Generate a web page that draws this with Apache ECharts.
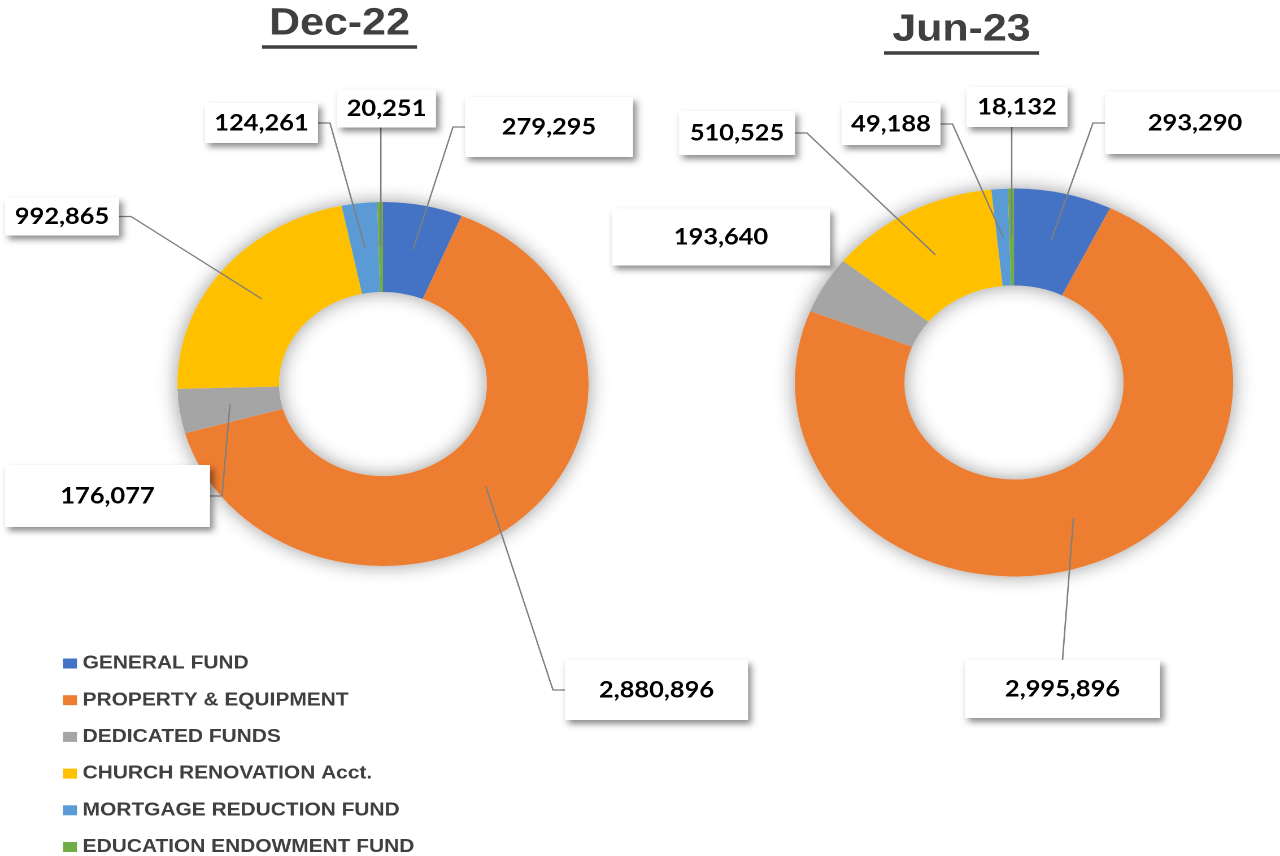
<!DOCTYPE html>
<html>
<head>
<meta charset="utf-8">
<script src="https://cdn.jsdelivr.net/npm/echarts@6/dist/echarts.min.js"></script>
<style>
html, body { margin: 0; padding: 0; background: #fff; overflow: hidden; }
#wrap { width: 1280px; height: 856px; overflow: hidden; }
#chart { width: 1133px; height: 856px; transform-origin: 0 0; }
</style>
</head>
<body>
<div id="wrap"><div id="chart"></div></div>
<script>
// ---------- data ----------
const categories = ['GENERAL FUND', 'PROPERTY & EQUIPMENT', 'DEDICATED FUNDS', 'CHURCH RENOVATION Acct.', 'MORTGAGE REDUCTION FUND', 'EDUCATION ENDOWMENT FUND'];
const periods = ['Dec-22', 'Jun-23'];
const dec22Values = [279295, 2880896, 176077, 992865, 124261, 20251];
const jun23Values = [293290, 2995896, 193640, 510525, 49188, 18132];
const seriesValues = [dec22Values, jun23Values];

// ---------- styles / layout ----------
const colors = ['#4472C4', '#ED7D31', '#A5A5A5', '#FFC000', '#5B9BD5', '#70AD47'];
const W = 1133;
const S = 1280 / W;                 // horizontal stretch of the original picture
const X = v => v / S;               // screen x -> chart x
document.getElementById('chart').style.transform = 'scaleX(' + S + ')';

const donutLayout = [
  { cx: 383, cy: 384, r0: 92, r: 182 },
  { cx: 1014, cy: 382.5, r0: 97, r: 194 }
];
const titleLayout = [
  { cx: 339.5, top: 4 },
  { cx: 961.5, top: 10 }
];
// label boxes: [centerX, centerY, width, height, leader side] in screen px
const labelBoxes = [
  [[549, 127, 168, 60, 'left'], [656.5, 690, 183, 60, 'left'], [107.5, 496, 205, 62, 'right'],
   [62, 216.5, 114, 38, 'right'], [261.5, 123, 113, 40, 'right'], [386.5, 108.5, 99, 38, 'bottom']],
  [[1195, 123, 180, 62, 'left'], [1062.5, 689, 195, 58, 'top'], [721, 237, 218, 57, 'none'],
   [737, 133, 116, 44, 'right'], [891, 124, 99, 42, 'right'], [1017, 107, 101, 40, 'bottom']]
];
const N = seriesValues.length;      // series 0..N-1: rings, N..2N-1: label layers, 2N..: soft shadows

const chart = echarts.init(document.getElementById('chart'), null, { devicePixelRatio: 2 });

// point in the middle of a ring segment, from the library's own sector layout
function ringMid(si, di, params, d) {
  try {
    const lay = chart.getModel().getSeriesByIndex(si).getData().getItemLayout(di);
    const a = (lay.startAngle + lay.endAngle) / 2;
    const rm = (lay.r + lay.r0) / 2;
    return [lay.cx + rm * Math.cos(a), lay.cy + rm * Math.sin(a)];
  } catch (e) {
    const p = params.labelLinePoints;
    const dx = p[1][0] - p[0][0], dy = p[1][1] - p[0][1];
    const len = Math.hypot(dx, dy) || 1;
    const k = (d.r - d.r0) / 2;
    return [p[0][0] - dx / len * k, p[0][1] - dy / len * k];
  }
}

function labelLayout(params) {
  const si = params.seriesIndex, di = params.dataIndex;
  const k = si - N;
  const b = labelBoxes[k][di];
  const bx = X(b[0]), by = b[1], bw = X(b[2]), bh = b[3], side = b[4];
  const out = { x: bx, y: by, align: 'center', verticalAlign: 'middle' };
  if (side !== 'none') {
    const m = ringMid(si, di, params, donutLayout[k]);
    const el = X(12);
    let pts;
    if (side === 'left') pts = [m, [bx - bw / 2 - el, by], [bx - bw / 2, by]];
    else if (side === 'right') pts = [m, [bx + bw / 2 + el, by], [bx + bw / 2, by]];
    else if (side === 'bottom') pts = [m, [m[0], by + bh / 2]];
    else pts = [m, [bx, by - bh / 2]];
    out.labelLinePoints = pts;
  }
  return out;
}

function pieBase(si) {
  const d = donutLayout[si];
  return {
    type: 'pie',
    name: periods[si],
    center: [X(d.cx), d.cy],
    radius: [d.r0, d.r],
    startAngle: 90,
    clockwise: true,
    avoidLabelOverlap: false,
    emphasis: { scale: false },
    itemStyle: { borderWidth: 0 }
  };
}

// coloured rings
const ringSeries = seriesValues.map((vals, si) => Object.assign(pieBase(si), {
  z: 3,
  label: { show: false },
  labelLine: { show: false },
  data: vals.map((v, i) => ({ value: v, name: categories[i], itemStyle: { color: colors[i] } }))
}));

// value boxes with leader lines, drawn above the rings
const labelSeries = seriesValues.map((vals, si) => Object.assign(pieBase(si), {
  z: 5,
  silent: true,
  legendHoverLink: false,
  itemStyle: { color: 'rgba(0,0,0,0)', borderWidth: 0 },
  label: {
    show: true,
    position: 'outside',
    formatter: p => p.value.toLocaleString('en-US'),
    fontFamily: 'Lato',
    fontWeight: 'bold',
    fontSize: 22.5,
    color: '#000',
    backgroundColor: '#fff',
    shadowColor: 'rgba(0,0,0,0.45)',
    shadowBlur: 6,
    shadowOffsetX: 3,
    shadowOffsetY: 4,
    align: 'center',
    verticalAlign: 'middle',
    padding: 0
  },
  labelLine: { show: true, length: 10, length2: 10, lineStyle: { color: '#7F7F7F', width: 1.3 } },
  labelLayout: labelLayout,
  data: vals.map((v, i) => {
    const b = labelBoxes[si][i];
    const item = {
      value: v,
      name: categories[i],
      label: { width: X(b[2]), height: b[3], lineHeight: b[3] }
    };
    if (b[4] === 'none') item.labelLine = { show: false };
    return item;
  })
}));

// soft shadow under each ring
const shadowSeries = donutLayout.map(d => ({
  type: 'pie',
  silent: true,
  z: 1,
  center: [X(d.cx), d.cy],
  radius: [d.r0, d.r],
  legendHoverLink: false,
  label: { show: false },
  labelLine: { show: false },
  itemStyle: { color: '#fff', shadowBlur: 18, shadowColor: 'rgba(0,0,0,0.4)' },
  data: [{ value: 1, name: 'ring-shadow' }]
}));

const option = {
  backgroundColor: '#fff',
  animation: false,
  title: periods.map((t, i) => ({
    text: '{t|' + t + '}\n{u| }',
    left: X(titleLayout[i].cx),
    top: titleLayout[i].top,
    textAlign: 'center',
    padding: 0,
    textStyle: {
      rich: {
        t: { fontFamily: 'Liberation Sans', fontWeight: 'bold', fontSize: 38, lineHeight: 40, color: '#404040' },
        u: { width: X(155), height: 3.5, lineHeight: 6, backgroundColor: '#404040', fontSize: 1 }
      }
    }
  })),
  legend: {
    orient: 'vertical',
    left: X(63),
    top: 654,
    height: 220,
    padding: 0,
    icon: 'rect',
    itemWidth: X(14),
    itemHeight: 10,
    itemGap: 17.7,
    data: categories,
    textStyle: {
      fontFamily: 'Liberation Sans',
      fontWeight: 'bold',
      fontSize: 18.5,
      lineHeight: 18,
      color: '#404040'
    }
  },
  series: ringSeries.concat(labelSeries, shadowSeries)
};

chart.setOption(option);
</script>
</body>
</html>
